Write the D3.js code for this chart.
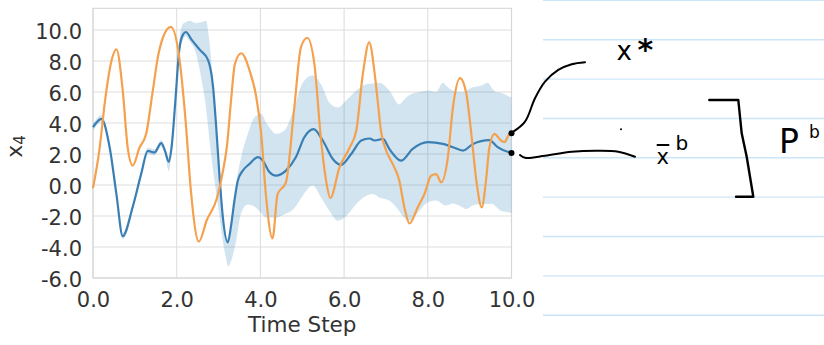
<!DOCTYPE html>
<html><head><meta charset="utf-8">
<script src="https://cdn.jsdelivr.net/npm/d3@7"></script>
<style>html,body{margin:0;padding:0;background:#fff}svg{display:block}</style>
</head><body>
<script>
// ---- data ----
const meanT = [0,0.2,0.4,0.56,0.71,0.95,1.15,1.31,1.47,1.63,1.72,1.81,1.88,1.97,2.06,2.15,2.22,2.35,2.56,2.75,2.87,2.95,3.03,3.1,3.22,3.3,3.38,3.46,3.58,3.74,3.94,4.06,4.22,4.37,4.61,4.85,5.05,5.27,5.49,5.73,5.93,6.17,6.41,6.61,6.73,6.93,7.08,7.36,7.64,8.0,8.36,8.6,8.84,9.08,9.47,9.67,10];
const meanV = [3.73,4.27,2.4,-0.6,-3.3,-1.4,0.7,2.2,2.1,2.7,2.2,1.5,2.5,5.5,8.7,9.7,9.87,9.4,8.7,8.06,6.3,3.5,0.3,-2.0,-3.7,-2.6,-1.0,0.28,0.93,1.36,1.8,1.57,0.82,0.6,0.93,1.8,3.08,3.6,2.87,1.68,1.3,2.0,2.87,3.0,2.87,2.97,2.33,1.57,2.33,2.76,2.65,2.44,2.22,2.65,2.9,2.44,2.07];

const bandT  = [0,0.2,0.4,0.56,0.71,0.95,1.15,1.31,1.47,1.63,1.72,1.81,1.88,1.97,2.06,2.15,2.22,2.3,2.46,2.58,2.7,2.78,2.87,2.95,3.03,3.1,3.17,3.23,3.3,3.42,3.54,3.7,3.86,4.02,4.14,4.22,4.37,4.57,4.81,5.01,5.25,5.45,5.65,5.85,6.05,6.29,6.53,6.69,6.84,7.08,7.32,7.4,7.56,7.8,8.0,8.2,8.36,8.44,8.6,8.84,8.92,9.08,9.27,9.43,9.55,9.63,9.75,9.95,10];
const bandLo = [3.5,4.05,2.2,-0.8,-3.5,-1.6,0.5,2.0,1.9,2.5,2.0,0.9,2.2,5.2,8.2,9.4,9.6,9.3,8.5,7.0,5.0,3.0,0.9,-0.6,-2.2,-3.6,-4.6,-5.25,-4.9,-3.6,-1.8,-1.25,-1.4,-1.8,-2.1,-2.1,-2.1,-1.9,-1.5,-0.7,-0.04,-0.8,-1.66,-2.3,-2.0,-1.23,-0.69,-0.58,-0.8,-1.0,-1.7,-2.0,-2.3,-1.66,-1.12,-1.0,-1.25,-1.33,-1.2,-1.45,-1.55,-1.3,-1.23,-1.23,-1.23,-1.4,-1.66,-1.77,-1.8];
const bandHi = [3.95,4.5,2.6,-0.4,-3.1,-1.2,0.9,2.4,2.3,2.9,2.4,1.8,2.8,5.8,9.2,10.4,10.5,10.6,10.45,10.5,10.6,9.3,6.5,3.8,0.6,-1.8,-3.2,-3.5,-2.4,0.1,1.8,3.3,4.37,4.6,4.0,3.7,3.3,3.5,5.0,6.6,7.07,6.5,5.3,5.0,5.45,6.1,6.5,6.55,6.6,6.1,5.2,5.4,5.8,6.0,6.1,6.0,6.6,6.4,6.1,6.0,6.1,6.3,6.4,6.6,6.2,6.0,5.95,5.7,5.65];

const trueT = [0,0.15,0.3,0.44,0.56,0.71,0.83,0.95,1.11,1.27,1.43,1.55,1.67,1.86,2.06,2.22,2.34,2.53,2.72,2.96,3.11,3.2,3.3,3.39,3.54,3.74,3.9,4.02,4.13,4.29,4.41,4.61,4.81,4.97,5.12,5.29,5.45,5.57,5.67,5.89,6.13,6.29,6.45,6.6,6.73,6.8,6.88,6.98,7.16,7.32,7.44,7.56,7.76,7.92,8.08,8.2,8.32,8.48,8.6,8.77,8.92,9.04,9.16,9.29,9.39,9.47,9.59,9.75,9.83,9.95,10];
const trueV = [-0.2,2.2,5.7,8.0,8.75,6.1,2.4,1.25,2.4,3.3,6.1,8.25,9.5,10.2,8.25,3.9,-0.4,-3.65,-2.26,-0.86,0.97,2.5,5.5,7.8,8.5,7.4,5.7,3.3,-0.6,-3.44,-0.6,0.17,5.0,8.9,9.5,7.8,2.87,0.28,-0.84,1.14,2.4,3.5,7.2,9.2,7.2,5.5,3.5,2.4,1.36,0.28,-1.44,-2.48,-1.44,-0.58,0.6,0.7,0.17,1.8,5.0,6.9,5.9,3.3,0.28,-1.44,0.28,2.4,3.3,2.87,2.76,3.3,3.34];

const xTicks = [0,2,4,6,8,10];
const yTicks = [-6,-4,-2,0,2,4,6,8,10];
const xLabel = "Time Step";
const yLabelMain = "x", yLabelSub = "4";

// ---- drawing ----
const W = 824, H = 345;
const svg = d3.select("body").append("svg").attr("width", W).attr("height", H);
svg.append("rect").attr("width", W).attr("height", H).attr("fill", "#fff");

const x = d3.scaleLinear().domain([0, 10]).range([93, 511.5]);
const y = d3.scaleLinear().domain([-6, 11.4]).range([278, 8.3]);
const fmt = d => d.toFixed(1);
const font = "'DejaVu Sans', sans-serif";
const gridCol = "#dedede";

// notebook lines (background on the right)
const nb = svg.append("g");
d3.range(0, 9).forEach(i => {
  const yy = 0.4 + i * 39.35;
  nb.append("line").attr("x1", 543).attr("x2", W).attr("y1", yy).attr("y2", yy)
    .attr("stroke", "#cbe6f8").attr("stroke-width", 1.4);
});

// grid
const g = svg.append("g");
g.selectAll(".gy").data(yTicks).join("line")
  .attr("x1", x.range()[0]).attr("x2", x.range()[1])
  .attr("y1", d => y(d)).attr("y2", d => y(d))
  .attr("stroke", gridCol).attr("stroke-width", 1.1);
g.selectAll(".gx").data(xTicks).join("line")
  .attr("y1", y.range()[0]).attr("y2", y.range()[1])
  .attr("x1", d => x(d)).attr("x2", d => x(d))
  .attr("stroke", gridCol).attr("stroke-width", 1.1);
g.append("rect").attr("x", x.range()[0]).attr("y", y.range()[1])
  .attr("width", x.range()[1] - x.range()[0]).attr("height", y.range()[0] - y.range()[1])
  .attr("fill", "none").attr("stroke", "#d6d6d6").attr("stroke-width", 1.1);

// band
const band = bandT.map((t, i) => ({t, lo: bandLo[i], hi: bandHi[i]}));
svg.append("path").datum(band)
  .attr("d", d3.area().x(d => x(d.t)).y0(d => y(d.lo)).y1(d => y(d.hi)).curve(d3.curveMonotoneX))
  .attr("fill", "rgba(31,119,180,0.2)");

// mean line
const mean = meanT.map((t, i) => ({t, v: meanV[i]}));
svg.append("path").datum(mean)
  .attr("d", d3.line().x(d => x(d.t)).y(d => y(d.v)).curve(d3.curveMonotoneX))
  .attr("fill", "none").attr("stroke", "#3a7fb4").attr("stroke-width", 2.2)
  .attr("stroke-linejoin", "round");

// truth line
const truth = trueT.map((t, i) => ({t, v: trueV[i]}));
svg.append("path").datum(truth)
  .attr("d", d3.line().x(d => x(d.t)).y(d => y(d.v)).curve(d3.curveMonotoneX))
  .attr("fill", "none").attr("stroke", "#f5a04c").attr("stroke-width", 2.2)
  .attr("stroke-linejoin", "round");

// axes
const ax = svg.append("g").attr("transform", `translate(0,${y.range()[0]})`)
  .call(d3.axisBottom(x).tickValues(xTicks).tickFormat(fmt).tickSize(0).tickPadding(0));
ax.select(".domain").remove();
ax.selectAll("text").attr("y", 28.7).attr("dy", null)
  .attr("font-family", font).attr("font-size", 21).attr("fill", "#333");

const ay = svg.append("g").attr("transform", `translate(${x.range()[0]},0)`)
  .call(d3.axisLeft(y).tickValues(yTicks).tickFormat(fmt).tickSize(0).tickPadding(11));
ay.select(".domain").remove();
ay.selectAll("text").attr("dy", null).attr("y", 8.5)
  .attr("font-family", font).attr("font-size", 21).attr("fill", "#333");

svg.append("text").attr("x", (x.range()[0] + x.range()[1]) / 2).attr("y", 331.7)
  .attr("text-anchor", "middle").attr("font-family", font).attr("font-size", 21.5)
  .attr("fill", "#333").text(xLabel);

const yl = svg.append("text").attr("transform", "translate(22,146.5) rotate(-90)")
  .attr("text-anchor", "middle").attr("font-family", font).attr("fill", "#333");
yl.append("tspan").attr("font-size", 22).text(yLabelMain);
yl.append("tspan").attr("font-size", 15).attr("dy", 3).text(yLabelSub);

// ---- handwritten annotations ----
const ink = svg.append("g").attr("fill", "none").attr("stroke", "#000")
  .attr("stroke-width", 2).attr("stroke-linecap", "round").attr("stroke-linejoin", "round");
const p1 = [x(10), y(trueV[trueV.length - 1])];
const p2 = [x(10), y(meanV[meanV.length - 1])];
const hand = d3.line().curve(d3.curveCatmullRom.alpha(0.5));
const up = [[1.8,-1.6],[13.5,-11.6],[23.5,-35],[33.5,-51.6],[46.8,-63.3],[60.2,-69],[73.5,-71]];
const lowC = [[8.5,2.1],[13.5,4.8],[33.5,2.8],[60.2,-1.2],[86.8,-2.2],[106.8,-1.2],[123.5,3.8]];
ink.append("path").attr("d", hand(up.map(o => [p1[0] + o[0], p1[1] + o[1]])));
ink.append("path").attr("d", hand(lowC.map(o => [p2[0] + o[0], p2[1] + o[1]])));
svg.append("circle").attr("cx", p1[0]).attr("cy", p1[1]).attr("r", 3).attr("fill", "#000");
svg.append("circle").attr("cx", p2[0]).attr("cy", p2[1]).attr("r", 3).attr("fill", "#000");
svg.append("circle").attr("cx", 621).attr("cy", 129.3).attr("r", 1).attr("fill", "#000");

// bracket
ink.append("path").attr("stroke-width", 2.4)
  .attr("d", d3.line()([[709.3,100],[738.3,100],[741.7,133.3],[746.7,156.7],[750,176.7],[753.3,196.7],[736,196.7]]));

// bar over x
ink.append("line").attr("x1", 657.5).attr("x2", 668.5).attr("y1", 145).attr("y2", 145);

const hw = (t, xx, yy, size, bold) => svg.append("text").attr("x", xx).attr("y", yy)
  .attr("font-family", font).attr("font-size", size).attr("font-weight", bold ? "bold" : "normal")
  .attr("fill", "#000").text(t);
hw("x", 616.5, 60, 26);
hw("*", 637.5, 59.5, 30, true);
hw("x", 656.5, 163.5, 21);
hw("b", 675.5, 150, 20);
hw("P", 779, 153, 33);
hw("b", 809, 137.5, 17);
</script>
</body></html>
